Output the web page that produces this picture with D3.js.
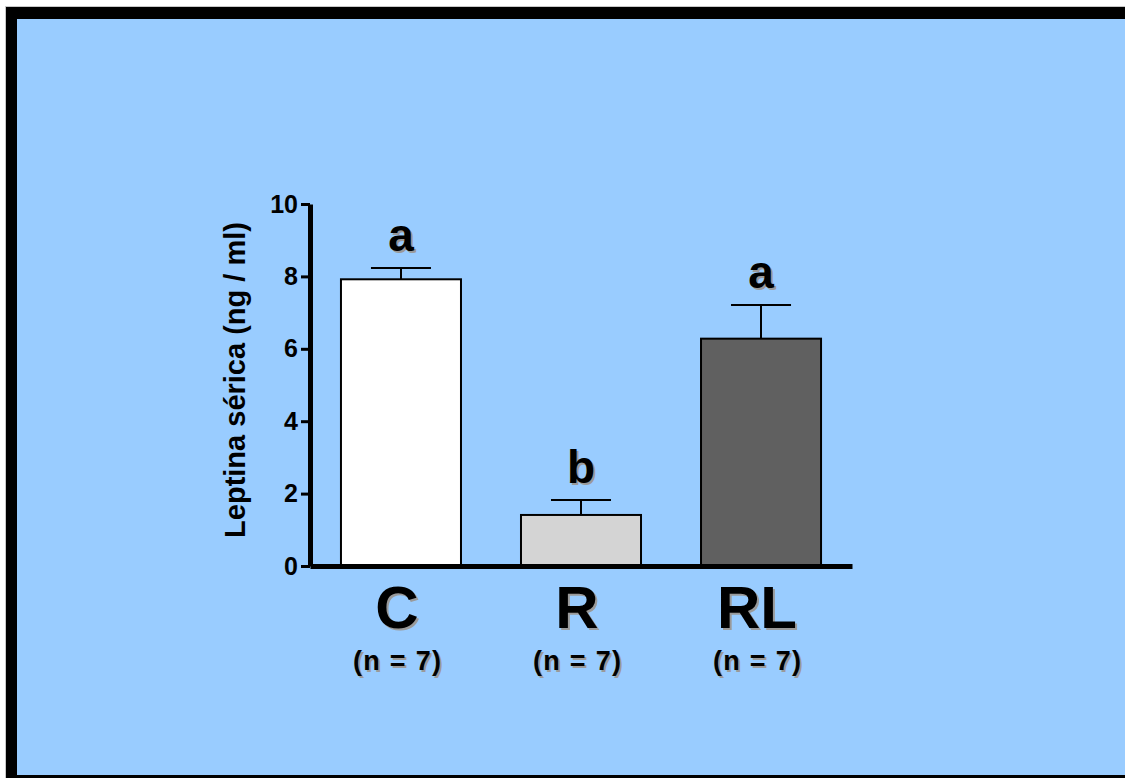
<!DOCTYPE html>
<html>
<head>
<meta charset="utf-8">
<script src="https://cdn.jsdelivr.net/npm/d3@7"></script>
<style>
    body { margin: 0; background: #fff; }
    svg { display: block; }
    text { font-family: "Liberation Sans", Arial, Helvetica, sans-serif; font-weight: bold; }
</style>
</head>
<body>
<svg id="chart"></svg>
<script>
// Chart data
const groups = ["C", "R", "RL"];
const groupSizes = ["(n = 7)", "(n = 7)", "(n = 7)"];
const means = [7.92, 1.41, 6.28];
const sems = [0.31, 0.41, 0.93];
const letters = ["a", "b", "a"];
const barColors = ["#ffffff", "#d4d4d4", "#606060"];
const yTicks = [0, 2, 4, 6, 8, 10];

const width = 1125;
const height = 778;

const svg = d3.select("#chart").attr("width", width).attr("height", height);

// Slide frame: black border with light blue panel
svg.append("rect")
    .attr("x", 5.5).attr("y", 6.5)
    .attr("width", width + 20).attr("height", height + 20)
    .attr("fill", "#000").attr("stroke", "#c8c8c8").attr("stroke-width", 1);
svg.append("rect")
    .attr("x", 17).attr("y", 19)
    .attr("width", width).attr("height", 756)
    .attr("fill", "#99ccff");

// Scales
const x = d3.scaleBand()
    .domain(groups)
    .range([310, 852])
    .paddingInner(1 / 3)
    .paddingOuter(0.172);

const y = d3.scaleLinear()
    .domain([0, 10])
    .range([566, 204]);

// Bars
svg.selectAll(".bar")
    .data(groups)
    .enter()
    .append("rect")
    .attr("class", "bar")
    .attr("x", d => x(d))
    .attr("y", (d, i) => y(means[i]))
    .attr("width", x.bandwidth())
    .attr("height", (d, i) => y(0) - y(means[i]))
    .attr("fill", (d, i) => barColors[i])
    .attr("stroke", "#000")
    .attr("stroke-width", 2);

// Error bars (upper only)
const errG = svg.append("g").attr("stroke", "#000").attr("stroke-width", 2);
groups.forEach((g, i) => {
    const cx = x(g) + x.bandwidth() / 2;
    errG.append("line")
        .attr("x1", cx).attr("x2", cx)
        .attr("y1", y(means[i])).attr("y2", y(means[i] + sems[i]));
    errG.append("line")
        .attr("x1", cx - x.bandwidth() / 4).attr("x2", cx + x.bandwidth() / 4)
        .attr("y1", y(means[i] + sems[i])).attr("y2", y(means[i] + sems[i]));
});

// Text with a grey drop shadow
function shadowText(tx, ty, str, size, len) {
    [["#9a9a9a", 2], ["#000", 0]].forEach(([col, off]) => {
        const t = svg.append("text")
            .attr("x", tx + off).attr("y", ty + off)
            .attr("text-anchor", "middle")
            .attr("font-size", size + "px")
            .attr("fill", col)
            .text(str);
        if (len) t.attr("textLength", len).attr("lengthAdjust", "spacing");
    });
}

// Significance letters
groups.forEach((g, i) => {
    shadowText(x(g) + x.bandwidth() / 2, y(means[i] + sems[i]) - 17, letters[i], 46);
});

// X axis baseline
svg.append("g")
    .attr("transform", `translate(0,${y(0)})`)
    .call(d3.axisBottom(x).tickSize(0).tickFormat(""))
    .call(g => g.select(".domain").attr("stroke", "#000").attr("stroke-width", 5));

// Category labels
groups.forEach((g, i) => {
    const cx = x(g) + x.bandwidth() / 2 - 4;
    shadowText(cx, 628, g, 60);
    shadowText(cx, 670, groupSizes[i], 27, 88);
});

// Y axis
const yAxis = svg.append("g")
    .attr("transform", "translate(310,0)")
    .call(d3.axisLeft(y).tickValues(yTicks).tickSize(9).tickSizeOuter(0).tickPadding(3));
yAxis.select(".domain").attr("stroke", "#000").attr("stroke-width", 5);
yAxis.selectAll(".tick line").attr("stroke", "#000").attr("stroke-width", 3);
yAxis.selectAll(".tick text")
    .attr("fill", "#000")
    .attr("font-size", "25px")
    .attr("font-family", "'Liberation Sans', Arial, sans-serif")
    .attr("font-weight", "bold");

// Y axis title
svg.append("text")
    .attr("transform", "translate(245,380) rotate(-90)")
    .attr("text-anchor", "middle")
    .attr("font-size", "29px")
    .attr("fill", "#000")
    .text("Leptina sérica (ng / ml)");
</script>
</body>
</html>
